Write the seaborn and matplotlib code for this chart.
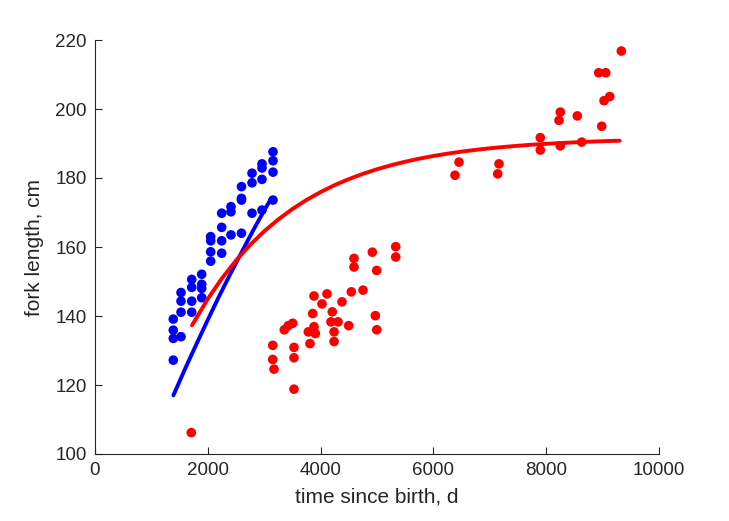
import matplotlib
matplotlib.use("Agg")
import matplotlib.pyplot as plt
import seaborn as sns
import pandas as pd

# ---- data ----
blue_t = [1388, 1388, 1388, 1388,
          1525, 1525, 1525, 1525,
          1715, 1715, 1715, 1715,
          1892, 1892, 1892, 1892,
          2051, 2051, 2051, 2051,
          2246, 2246, 2246, 2246,
          2411, 2411, 2411,
          2597, 2597, 2597, 2597,
          2784, 2784, 2784,
          2961, 2961, 2961, 2961,
          3156, 3156, 3156, 3156]
blue_len = [139.1, 135.9, 133.5, 127.2,
            146.8, 144.3, 141.1, 134.0,
            150.6, 148.3, 144.3, 141.1,
            152.1, 149.2, 148.0, 145.3,
            163.0, 161.8, 158.6, 155.9,
            169.8, 165.7, 161.8, 158.2,
            171.7, 170.2, 163.5,
            177.5, 174.1, 173.6, 164.0,
            181.4, 178.6, 169.8,
            184.1, 182.9, 179.6, 170.7,
            187.6, 185.0, 181.7, 173.6]

red_t = [5332, 5332, 4917, 4592, 4592, 4995, 3883, 4113, 4544, 4752,
         4025, 4379, 3860, 4207, 4970, 4995, 3356, 3427, 3505, 4184,
         4309, 4498, 3782, 3883, 3906, 4238, 4238, 3812, 3151, 3528,
         3151, 3528, 3174, 3528, 1707,
         9332, 8931, 9055, 9025, 9126, 8984, 8551, 8250, 8227, 7895,
         7895, 8250, 8629, 7163, 7140, 6454, 6383]
red_len = [160.1, 157.1, 158.5, 156.7, 154.2, 153.2, 145.8, 146.4, 147.0, 147.5,
           143.5, 144.1, 140.7, 141.2, 140.1, 136.0, 136.0, 137.2, 137.9, 138.3,
           138.3, 137.2, 135.4, 136.9, 134.9, 135.4, 132.6, 132.0, 131.5, 130.9,
           127.4, 127.9, 124.6, 118.8, 106.2,
           216.8, 210.5, 210.5, 202.4, 203.6, 195.0, 198.0, 199.1, 196.7, 191.7,
           188.1, 189.3, 190.4, 184.1, 181.2, 184.6, 180.8]

# fitted growth curves
blue_curve_t = [1390, 1600, 1800, 2000, 2200, 2400, 2600, 2800, 3000, 3103]
blue_curve_len = [117.0, 124.8, 131.9, 138.9, 145.7, 152.2, 158.5, 164.7, 170.6, 173.5]

red_curve_t = [1720, 2000, 2250, 2500, 2750, 3000, 3250, 3500, 3750, 4000,
               4250, 4500, 4750, 5000, 5250, 5500, 5750, 6000, 6250, 6500,
               6750, 7000, 7250, 7500, 7750, 8000, 8250, 8500, 8750, 9000,
               9250, 9300]
red_curve_len = [137.30, 144.96, 150.91, 156.09, 160.61, 164.56, 168.00, 171.01,
                 173.64, 175.93, 177.94, 179.68, 181.21, 182.54, 183.71, 184.72,
                 185.61, 186.38, 187.06, 187.65, 188.16, 188.61, 189.00, 189.35,
                 189.65, 189.91, 190.13, 190.33, 190.51, 190.66, 190.79, 190.81]

x_ticks = [0, 2000, 4000, 6000, 8000, 10000]
y_ticks = [100, 120, 140, 160, 180, 200, 220]

# ---- plotting ----
sns.set_theme(style="white")
plt.rcParams['font.family'] = ['Liberation Sans', 'DejaVu Sans']
plt.rcParams['xtick.direction'] = 'in'
plt.rcParams['ytick.direction'] = 'in'
dark = "#262626"

fig = plt.figure(figsize=(7.29, 5.21), dpi=100)
ax = fig.add_axes([95 / 729, 1 - 454 / 521, (659 - 95) / 729, (454 - 40) / 521])

blue_df = pd.DataFrame({"t": blue_t, "L": blue_len})
red_df = pd.DataFrame({"t": red_t, "L": red_len})
bc = pd.DataFrame({"t": blue_curve_t, "L": blue_curve_len})
rc = pd.DataFrame({"t": red_curve_t, "L": red_curve_len})

sns.scatterplot(data=blue_df, x="t", y="L", color="#0000ff", s=48,
                edgecolor="none", ax=ax, zorder=2)
sns.scatterplot(data=red_df, x="t", y="L", color="#ff0000", s=48,
                edgecolor="none", ax=ax, zorder=2)
sns.lineplot(data=bc, x="t", y="L", color="#0000ff", lw=2.8,
             estimator=None, sort=False, ax=ax, zorder=3)
sns.lineplot(data=rc, x="t", y="L", color="#ff0000", lw=2.8,
             estimator=None, sort=False, ax=ax, zorder=3)

ax.set_xlim(0, 10000)
ax.set_ylim(100, 220)
ax.set_xticks(x_ticks)
ax.set_yticks(y_ticks)
ax.set_xticklabels([str(v) for v in x_ticks])
ax.set_yticklabels([str(v) for v in y_ticks])

for s in ["top", "right"]:
    ax.spines[s].set_visible(False)
for s in ["left", "bottom"]:
    ax.spines[s].set_color(dark)
    ax.spines[s].set_linewidth(0.8)

ax.tick_params(direction="in", length=5, width=0.8, colors=dark,
               labelsize=13.5, left=True, bottom=True, pad=6)
ax.set_xlabel("time since birth, d", fontsize=15, color=dark, labelpad=6)
ax.set_ylabel("fork length, cm", fontsize=15, color=dark, labelpad=8)

fig.savefig("out.png", dpi=100, facecolor="white")
